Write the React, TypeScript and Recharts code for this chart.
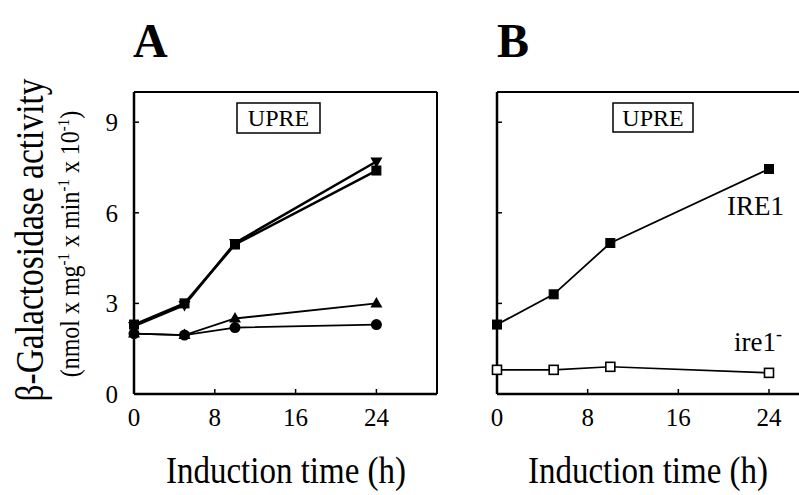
import React from 'react';
import { LineChart, Line, XAxis, YAxis, ReferenceLine } from 'recharts';

const hours = [0, 5, 10, 24];
const aSquare = [2.3, 3.0, 4.95, 7.4];
const aInvTriangle = [2.25, 2.95, 5.0, 7.7];
const aTriangle = [2.0, 1.95, 2.5, 3.0];
const aCircle = [2.0, 1.95, 2.2, 2.3];
const bIre1 = [2.3, 3.3, 5.0, 7.45];
const bIre1Mutant = [0.8, 0.8, 0.9, 0.7];
const xTicks = [0, 8, 16, 24];
const yTicks = [0, 3, 6, 9];

const font = "'Liberation Serif', 'DejaVu Serif', serif";

const dataA = hours.map((h, i) => ({ h, sq: aSquare[i], inv: aInvTriangle[i], tri: aTriangle[i], circ: aCircle[i] }));
const dataB = hours.map((h, i) => ({ h, wt: bIre1[i], mut: bIre1Mutant[i] }));

type DotProps = { cx?: number; cy?: number; index?: number };

const squareDot = (filled: boolean) => (p: DotProps) => {
  const { cx = 0, cy = 0, index } = p;
  return <rect key={`sq-${filled}-${index}`} x={cx - 4.5} y={cy - 4.5} width={9} height={9} fill={filled ? '#000' : '#fff'} stroke="#000" strokeWidth={filled ? 1 : 1.6} />;
};
const circleDot = (p: DotProps) => <circle key={`c-${p.index}`} cx={p.cx} cy={p.cy} r={5.5} fill="#000" />;
const triDot = (p: DotProps) => {
  const { cx = 0, cy = 0 } = p;
  return <path key={`t-${p.index}`} d={`M${cx},${cy - 6.5} L${cx + 6},${cy + 4} L${cx - 6},${cy + 4} Z`} fill="#000" />;
};
const invTriDot = (p: DotProps) => {
  const { cx = 0, cy = 0 } = p;
  return <path key={`it-${p.index}`} d={`M${cx},${cy + 6.5} L${cx + 6},${cy - 4} L${cx - 6},${cy - 4} Z`} fill="#000" />;
};

const tickStyle = { fontFamily: font, fontSize: 25, fill: '#000' };
const axisStroke = { stroke: '#000', strokeWidth: 2.5 };

function Panel({ data, children, showYLabels }: { data: object[]; children: React.ReactNode; showYLabels: boolean }) {
  return (
    <LineChart width={460} height={495} data={data} margin={{ top: 92, right: 23, bottom: 71, left: showYLabels ? 74 : 37 }}>
      <XAxis dataKey="h" type="number" domain={[0, 30]} ticks={xTicks} height={30} tickSize={-5} tickMargin={19}
        axisLine={axisStroke} tickLine={{ stroke: '#000', strokeWidth: 1.5 }} tick={tickStyle} />
      <YAxis type="number" domain={[0, 10]} ticks={yTicks} width={60} tickSize={-5} tickMargin={21}
        axisLine={axisStroke} tickLine={{ stroke: '#000', strokeWidth: 1.5 }}
        tick={tickStyle} tickFormatter={(v) => (showYLabels ? String(v) : '')} />
      <ReferenceLine y={10} stroke="#000" strokeWidth={2} />
      {showYLabels && <ReferenceLine x={30} stroke="#000" strokeWidth={2} />}
      {children}
    </LineChart>
  );
}

export default function App() {
  return (
    <div style={{ position: 'absolute', left: 0, top: 0, width: 799, height: 495, overflow: 'hidden', background: '#fff' }}>
      <div style={{ position: 'absolute', left: 0, top: 0 }}>
        <Panel data={dataA} showYLabels>
          <Line dataKey="circ" stroke="#000" strokeWidth={1.8} dot={circleDot} isAnimationActive={false} />
          <Line dataKey="tri" stroke="#000" strokeWidth={1.8} dot={triDot} isAnimationActive={false} />
          <Line dataKey="sq" stroke="#000" strokeWidth={2.5} dot={squareDot(true)} isAnimationActive={false} />
          <Line dataKey="inv" stroke="#000" strokeWidth={2.5} dot={invTriDot} isAnimationActive={false} />
        </Panel>
      </div>
      <div style={{ position: 'absolute', left: 400, top: 0 }}>
        <Panel data={dataB} showYLabels={false}>
          <Line dataKey="wt" stroke="#000" strokeWidth={1.8} dot={squareDot(true)} isAnimationActive={false} />
          <Line dataKey="mut" stroke="#000" strokeWidth={1.6} dot={squareDot(false)} isAnimationActive={false} />
        </Panel>
      </div>
      <svg width={799} height={495} style={{ position: 'absolute', left: 0, top: 0, pointerEvents: 'none' }} fontFamily={font}>
        <text x={133} y={57} fontSize={48} fontWeight="bold">A</text>
        <text x={497} y={57} fontSize={48} fontWeight="bold">B</text>
        <text transform="translate(43,240) rotate(-90) scale(1,1.2)" textAnchor="middle" fontSize={33.5}>β-Galactosidase activity</text>
        <text transform="translate(79,244) rotate(-90) scale(1,1.1)" textAnchor="middle" fontSize={24}>
          (nmol x mg<tspan dy={-9} fontSize={15}>-1</tspan><tspan dy={9}> x min</tspan><tspan dy={-9} fontSize={15}>-1</tspan><tspan dy={9}> x 10</tspan><tspan dy={-9} fontSize={15}>-1</tspan><tspan dy={9}>)</tspan>
        </text>
        <text transform="translate(286,483) scale(1,1.15)" textAnchor="middle" fontSize={33}>Induction time (h)</text>
        <text transform="translate(648,483) scale(1,1.15)" textAnchor="middle" fontSize={33}>Induction time (h)</text>
        <rect x={237} y={103} width={83} height={30} fill="none" stroke="#000" strokeWidth={1.5} />
        <text x={278.5} y={126} textAnchor="middle" fontSize={24}>UPRE</text>
        <rect x={613} y={103} width={80} height={29} fill="none" stroke="#000" strokeWidth={1.5} />
        <text x={653} y={126} textAnchor="middle" fontSize={24}>UPRE</text>
        <text x={727} y={215} fontSize={27}>IRE1</text>
        <text x={734} y={351} fontSize={27}>ire1<tspan dy={-11} fontSize={18}>-</tspan></text>
      </svg>
    </div>
  );
}
